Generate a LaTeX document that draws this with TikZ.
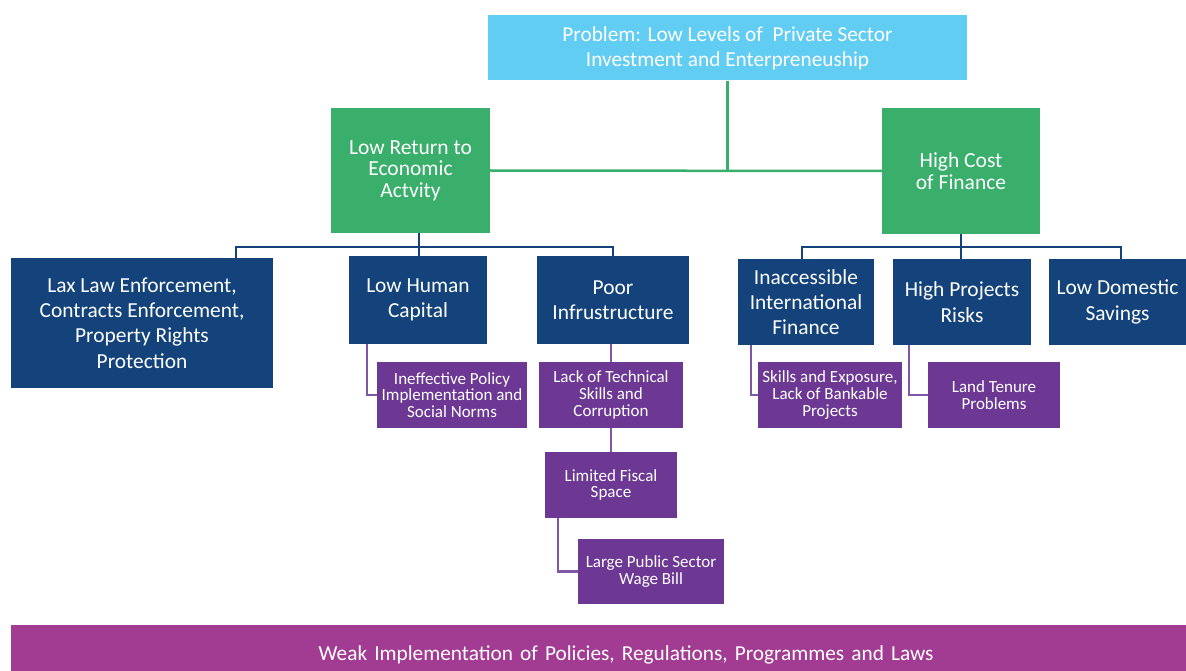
\documentclass[tikz,border=0pt]{standalone}
\usepackage{fontspec}
\setmainfont{Carlito}
\definecolor{topblue}{HTML}{62CDF3}
\definecolor{grn}{HTML}{3AAE6B}
\definecolor{navy}{HTML}{13437A}
\definecolor{purp}{HTML}{6C3893}
\definecolor{purpline}{HTML}{7E57A6}
\definecolor{mag}{HTML}{A23B92}
\tikzset{
  box/.style={rectangle, inner sep=2pt, text=white, align=center},
  topbox/.style={box, fill=topblue, font=\fontsize{21.3}{25}\selectfont},
  greenbox/.style={box, fill=grn, font=\fontsize{21.5}{21.5}\selectfont},
  navybox/.style={box, fill=navy, font=\fontsize{21.4}{25.3}\selectfont},
  purpbox/.style={box, fill=purp, font=\fontsize{17}{16.8}\selectfont},
  barbox/.style={box, fill=mag, font=\fontsize{21.3}{22}\selectfont},
  gline/.style={draw=grn, line width=2.5pt},
  nline/.style={draw=navy, line width=2.5pt},
  pline/.style={draw=purpline, line width=2.2pt},
}
\begin{document}
\begin{tikzpicture}[x=1pt,y=-1pt]
\useasboundingbox (0,0) rectangle (1186,671);
% top
\node[topbox, minimum width=479, minimum height=65] (top) at (727.5,48) {Problem: Low Levels of\ \ Private Sector\\Investment and Enterpreneuship};
% green
\node[greenbox, minimum width=159, minimum height=125] (lowret) at (410.5,170.5) {Low Return to\\Economic\\Actvity};
\node[greenbox, minimum width=158, minimum height=126] (highcost) at (961,171) {High Cost\\of Finance};
% navy
\node[navybox, minimum width=262, minimum height=130] (lax) at (142,323) {Lax Law Enforcement,\\Contracts Enforcement,\\Property Rights\\Protection};
\node[navybox, minimum width=138, minimum height=88] (lowhuman) at (418,300) {Low Human\\Capital};
\node[navybox, minimum width=152, minimum height=88] (poor) at (613,300) {Poor\\Infrustructure};
\node[navybox, minimum width=136, minimum height=86] (inacc) at (806,302) {Inaccessible\\International\\Finance};
\node[navybox, minimum width=138, minimum height=86] (highproj) at (962,302) {High Projects\\Risks};
\node[navybox, minimum width=137, minimum height=86] (lowdom) at (1117.5,302) {Low Domestic\\Savings};
% purple
\node[purpbox, minimum width=150, minimum height=66] (ineff) at (452,395) {Ineffective Policy\\Implementation and\\Social Norms};
\node[purpbox, minimum width=144, minimum height=66] (lacktech) at (611,395) {Lack of Technical\\Skills and\\Corruption};
\node[purpbox, minimum width=132, minimum height=66] (limited) at (611,485) {Limited Fiscal\\Space};
\node[purpbox, minimum width=146, minimum height=65] (large) at (651,571.5) {Large Public Sector\\Wage Bill};
\node[purpbox, minimum width=144, minimum height=66] (skills) at (830,395) {Skills and Exposure,\\Lack of Bankable\\Projects};
\node[purpbox, minimum width=132, minimum height=66] (land) at (994,395) {Land Tenure\\Problems};
% bottom bar (extends below the page edge, as in the reference)
\node[barbox, minimum width=1175, minimum height=60, text width=1171] (bar) at (598.5,655) {\hspace*{55pt}Weak Implementation of Policies, Regulations, Programmes and Laws};
% green connectors
\draw[gline] (top.south) -- (top.south |- lowret.east);
\draw[gline] (lowret.east) -- (highcost.west);
% navy connectors left
\coordinate (lj) at (419,247);
\coordinate (laxj) at (236,247);
\coordinate (poorj) at (613,247);
\draw[nline] (lj |- lowret.south) -- (lj);
\draw[nline] (laxj |- lax.north) -- (laxj) -- (poorj) -- (poor.north);
\draw[nline] (lj) -- (lj |- lowhuman.north);
% navy connectors right
\coordinate (rj) at (961,247);
\coordinate (inaccj) at (802,247);
\coordinate (domj) at (1121,247);
\draw[nline] (rj |- highcost.south) -- (rj |- highproj.north);
\draw[nline] (inaccj |- inacc.north) -- (inaccj) -- (domj) -- (domj |- lowdom.north);
% purple connectors
\draw[pline] ([xshift=18]lowhuman.south west) |- (ineff.west);
\draw[pline] (lacktech.north |- poor.south) -- (lacktech.north);
\draw[pline] (lacktech.south) -- (limited.north);
\draw[pline] ([xshift=13]limited.south west) |- (large.west);
\draw[pline] ([xshift=13]inacc.south west) |- (skills.west);
\draw[pline] ([xshift=16]highproj.south west) |- (land.west);
\end{tikzpicture}
\end{document}
